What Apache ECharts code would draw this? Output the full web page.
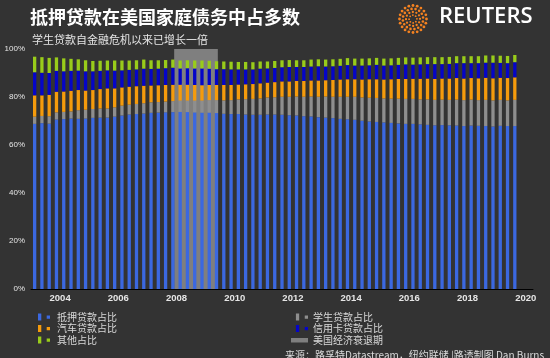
<!DOCTYPE html>
<html>
<head>
<meta charset="utf-8">
<script src="https://cdn.jsdelivr.net/npm/echarts@6/dist/echarts.min.js"></script>
<style>
html,body{margin:0;padding:0;background:#333333;}
#c{width:550px;height:358px;}
</style>
</head>
<body>
<div id="c"></div>
<script>
// Quarterly shares of US household debt, 2003Q1 - 2019Q3 (percent)
const startYear = 2003;
const axisQuarters = 69; // axis runs 2003Q1 .. 2020Q1
const mortgage = [68.8,69.1,68.9,70.6, 70.8,71.0,70.9,71.0, 71.3,71.4,71.4,71.8, 72.3,72.7,72.9,73.1,
  73.4,73.5,73.6,73.7, 73.8,73.7,73.6,73.5, 73.5,73.3,73.0,72.9, 72.9,72.7,72.6,72.6,
  72.7,72.7,72.6,72.4, 72.3,72.0,71.9,71.6, 71.4,71.2,70.9,70.7, 70.5,70.1,69.8,69.6,
  69.4,69.2,69.0,68.8, 68.8,68.6,68.4,68.2, 68.3,68.2,68.1,67.9, 68.1,68.0,67.9,67.7,
  68.0,67.9,67.9];
const student = [3.0,3.0,3.1,3.0, 3.0,3.0,3.6,3.7, 3.7,3.8,3.8,3.9, 4.1,4.1,4.2,4.3,
  4.4,4.4,4.5,4.6, 4.7,4.8,4.9,5.0, 5.2,5.4,5.6,5.8, 6.1,6.4,6.6,6.8,
  7.1,7.2,7.5,7.7, 7.9,8.1,8.3,8.5, 8.8,8.9,9.2,9.4, 9.6,9.7,9.9,10.0,
  10.0,10.1,10.3,10.4, 10.4,10.4,10.6,10.6, 10.6,10.6,10.8,10.8, 10.8,10.7,10.9,10.9,
  10.8,10.7,10.9];
const auto = [8.9,8.6,8.9,8.6, 8.5,8.6,8.4,8.0, 7.9,8.1,8.4,7.9, 7.6,7.5,7.4,7.3,
  7.0,7.0,6.9,6.8, 6.6,6.6,6.5,6.4, 6.3,6.3,6.4,6.3, 6.2,6.2,6.2,6.3,
  6.2,6.3,6.4,6.4, 6.5,6.6,6.7,6.8, 6.8,7.0,7.2,7.3, 7.3,7.5,7.7,7.8,
  7.9,8.1,8.2,8.3, 8.4,8.6,8.7,8.7, 8.8,8.9,9.0,9.0, 9.0,9.1,9.2,9.2,
  9.2,9.3,9.4];
const creditCard = [9.6,9.4,9.1,8.7, 8.4,8.3,8.1,8.0, 7.8,7.6,7.5,7.4, 7.1,7.0,7.0,7.1,
  6.9,6.9,7.0,7.1, 6.8,6.9,6.9,7.0, 6.8,6.6,6.6,6.5, 6.3,6.2,6.1,6.1,
  5.9,5.9,5.9,6.0, 5.8,5.8,5.8,5.9, 5.7,5.7,5.7,5.9, 5.7,5.8,5.8,6.0,
  5.8,5.8,5.9,6.1, 5.9,6.0,6.0,6.2, 6.0,6.1,6.2,6.4, 6.2,6.3,6.3,6.5,
  6.2,6.2,6.3];
const other = [6.5,6.5,6.3,5.6, 5.4,5.0,4.7,4.6, 4.3,4.2,4.1,4.2, 4.1,3.9,3.8,3.8,
  3.6,3.5,3.4,3.4, 3.3,3.3,3.3,3.3, 3.3,3.3,3.2,3.2, 3.1,3.1,3.0,3.0,
  2.9,2.9,2.9,2.9, 2.8,2.8,2.9,2.9, 2.9,2.9,2.9,2.9, 2.9,2.9,2.9,2.9,
  2.9,2.9,2.9,2.9, 2.9,2.9,2.9,2.9, 2.9,2.9,2.9,2.9, 2.9,2.9,3.0,3.0,
  3.0,3.0,3.0];
const recessionStart = 2007.92; // Dec 2007
const recessionEnd = 2009.42;   // Jun 2009
const yTicks = [0, 20, 40, 60, 80, 100];
const yearLabels = [2004, 2006, 2008, 2010, 2012, 2014, 2016, 2018, 2020];

const names = {
  mortgage: '抵押贷款占比', student: '学生贷款占比', auto: '汽车贷款占比',
  cc: '信用卡贷款占比', other: '其他占比', rec: '美国经济衰退期'
};
const colors = {
  mortgage: '#3b68e0', student: '#8e8e8e', auto: '#f59b0c',
  cc: '#0505c8', other: '#99cc1a', rec: '#7f7f7f'
};

const categories = [];
for (let i = 0; i < axisQuarters; i++) {
  categories.push((startYear + Math.floor(i / 4)) + 'Q' + (i % 4 + 1));
}

// Reuters logo dots (decoration)
const logo = [];
const cx = 413, cy = 19;
const rings = [[13.5, 20, 1.4], [10.2, 16, 1.3], [7, 12, 1.15], [3.9, 8, 0.95]];
rings.forEach(function (r, k) {
  for (let j = 0; j < r[1]; j++) {
    const a = (j / r[1]) * Math.PI * 2 + k * 0.25;
    logo.push({type: 'circle', shape: {cx: cx + r[0] * Math.cos(a), cy: cy + r[0] * Math.sin(a), r: r[2]},
      style: {fill: '#f58220'}, silent: true});
  }
});

const iconL = 'path://M0,0h3.3v7h-3.3z M8.7,2h3.3v3.3h-3.3z M14,7h0';
const iconR = 'path://M0,0h0 M5,0h3.3v7h-3.3z M14,2h3.3v3.3h-3.3z M17,7h0';
const iconRec = 'path://M0,0h0 M0,1.5h17v4.5h-17z M17,7h0';

function barSeries(name, data, color) {
  return {name: name, type: 'bar', stack: 'debt', data: data, barWidth: 3.3,
    itemStyle: {color: color}, z: 3, emphasis: {disabled: true}};
}

const chart = echarts.init(document.getElementById('c'), null, {renderer: 'canvas'});
chart.setOption({
  backgroundColor: '#333333',
  animation: false,
  textStyle: {fontFamily: '"Noto Sans CJK SC", "Liberation Sans", sans-serif'},
  title: [
    {text: '抵押贷款在美国家庭债务中占多数', left: 25, top: 3,
      textStyle: {color: '#ffffff', fontSize: 18, fontWeight: 'bold', fontFamily: '"Noto Sans CJK SC", sans-serif'}},
    {text: '学生贷款自金融危机以来已增长一倍', left: 27, top: 29,
      textStyle: {color: '#e6e6e6', fontSize: 11, fontWeight: 'normal', fontFamily: '"Noto Sans CJK SC", sans-serif'}},
    {text: '来源：路孚特Datastream，纽约联储 |路透制图 Dan Burns', left: 280, top: 345,
      textStyle: {color: '#d9d9d9', fontSize: 10, fontWeight: 'normal', fontFamily: '"Noto Sans CJK SC", sans-serif'}}
  ],
  graphic: logo.concat([
    {type: 'text', left: 439, top: 6, silent: true,
      style: {text: 'REUTERS', fill: '#ffffff', font: '600 22px "Open Sans", "Liberation Sans", sans-serif'}}
  ]),
  legend: [
    {left: 38, top: 312, padding: 0, orient: 'vertical', itemWidth: 14, itemHeight: 7, itemGap: 1.5,
      textStyle: {color: '#d9d9d9', fontSize: 10},
      data: [{name: names.mortgage, icon: iconL}, {name: names.auto, icon: iconL}, {name: names.other, icon: iconL}]},
    {left: 291, top: 312, padding: 0, orient: 'vertical', itemWidth: 17, itemHeight: 7, itemGap: 1.5,
      textStyle: {color: '#d9d9d9', fontSize: 10},
      data: [{name: names.student, icon: iconR}, {name: names.cc, icon: iconR}, {name: names.rec, icon: iconRec}]}
  ],
  grid: {left: 31, right: 17, top: 49, bottom: 69},
  xAxis: [
    {type: 'category', data: categories, boundaryGap: true,
      axisLine: {show: true, lineStyle: {color: '#000000', width: 1}},
      axisTick: {show: false}, axisLabel: {show: false}, splitLine: {show: false}},
    {type: 'value', position: 'bottom', min: startYear, max: startYear + axisQuarters / 4, interval: 1,
      axisLine: {show: false}, axisTick: {show: false}, splitLine: {show: false},
      axisLabel: {color: '#e6e6e6', fontSize: 9.5, fontWeight: 'bold', margin: 4,
        fontFamily: '"Liberation Sans", Arial, sans-serif',
        showMinLabel: false, showMaxLabel: false,
        formatter: function (v) { return yearLabels.indexOf(v) >= 0 ? String(v) : ''; }}}
  ],
  yAxis: {type: 'value', min: yTicks[0], max: yTicks[yTicks.length - 1], interval: 20,
    axisLine: {show: false}, axisTick: {show: false}, splitLine: {show: false},
    axisLabel: {color: '#e6e6e6', fontSize: 8, margin: 6, formatter: '{value}%',
      fontFamily: '"Liberation Sans", Arial, sans-serif'}},
  series: [
    {name: names.rec, type: 'line', xAxisIndex: 1, data: [], z: 1,
      itemStyle: {color: colors.rec}, lineStyle: {color: colors.rec},
      markArea: {silent: true, itemStyle: {color: colors.rec, opacity: 1},
        data: [[{xAxis: recessionStart, yAxis: 0}, {xAxis: recessionEnd, yAxis: 100}]]}},
    barSeries(names.mortgage, mortgage, colors.mortgage),
    barSeries(names.student, student, colors.student),
    barSeries(names.auto, auto, colors.auto),
    barSeries(names.cc, creditCard, colors.cc),
    barSeries(names.other, other, colors.other)
  ]
});
</script>
</body>
</html>
